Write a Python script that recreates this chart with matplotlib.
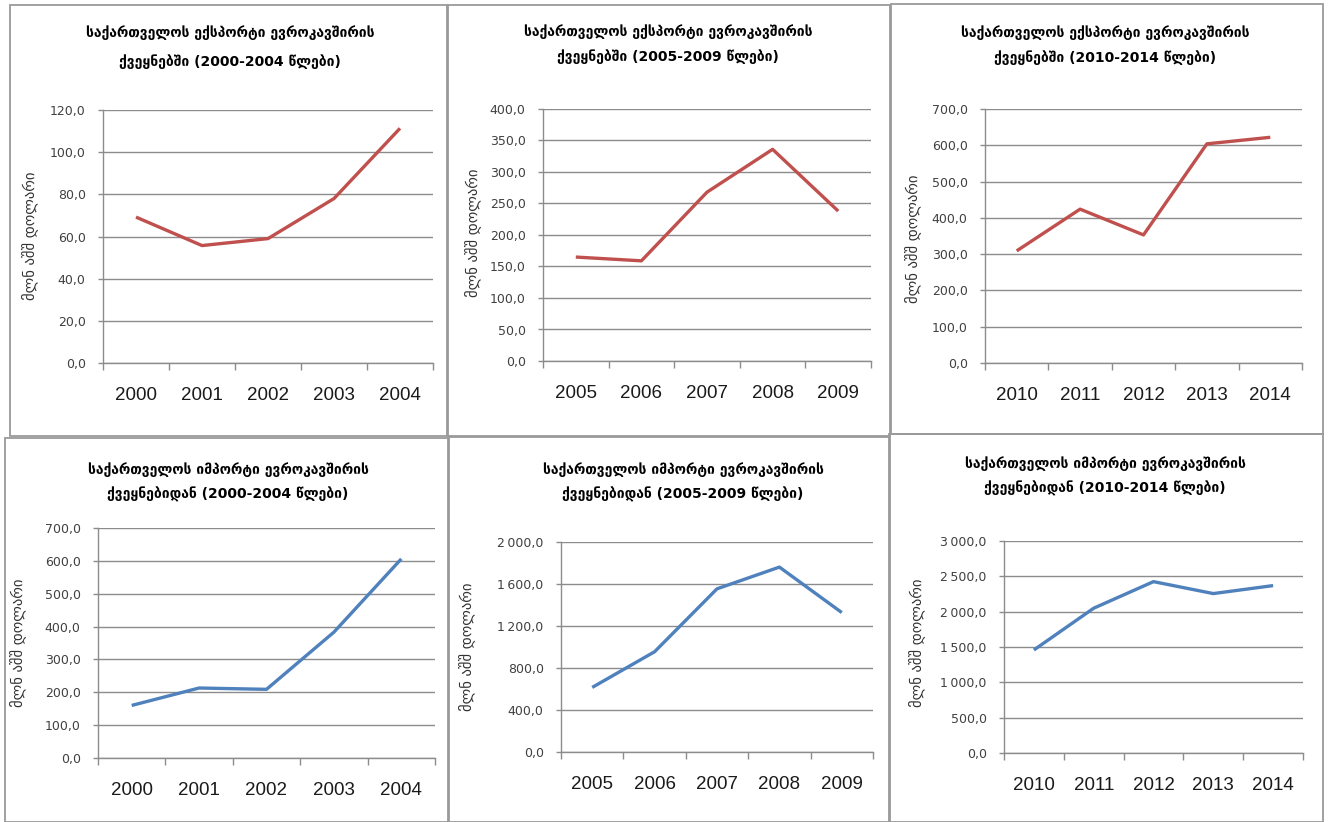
import matplotlib
matplotlib.use('Agg')
import matplotlib.pyplot as plt
from matplotlib.patches import Rectangle
from matplotlib.ticker import FuncFormatter

W, H = 1329, 822

years_a = ['2000', '2001', '2002', '2003', '2004']
years_b = ['2005', '2006', '2007', '2008', '2009']
years_c = ['2010', '2011', '2012', '2013', '2014']

# მლნ აშშ დოლარი
export_a = [69.2, 55.7, 59.0, 78.0, 111.3]
export_b = [165.0, 159.0, 268.0, 336.0, 238.0]
export_c = [309.0, 424.0, 353.0, 604.0, 622.0]
import_a = [160.0, 213.0, 209.0, 383.0, 606.0]
import_b = [615.0, 955.0, 1554.0, 1761.0, 1328.0]
import_c = [1458.0, 2049.0, 2425.0, 2256.0, 2369.0]

export_title = 'საქართველოს ექსპორტი ევროკავშირის\nქვეყნებში ({} წლები)'
import_title = 'საქართველოს იმპორტი ევროკავშირის\nქვეყნებიდან ({} წლები)'
y_label = 'მლნ აშშ დოლარი'

RED = '#C0504D'
BLUE = '#4F81BD'
GRID = '#8C8C8C'


def fmt(v, pos=None):
    s = '{:,.1f}'.format(v)
    return s.replace(',', '\u2009').replace('.', ',')


def px_rect(x0, y0, x1, y1):
    # pixels (top-left origin) -> figure fraction
    return [x0 / W, 1 - y1 / H, (x1 - x0) / W, (y1 - y0) / H]


panels = [
    # frame, axes, years, values, ymax, ystep, color, title, title center, line spacing, ylabel pos
    ((10, 5, 447, 436), (103, 110, 433, 363), years_a, export_a, 120, 20, RED,
     export_title.format('2000-2004'), (230, 47), 2.15, (30, 236)),
    ((448, 5, 890, 436), (543, 109, 871, 361), years_b, export_b, 400, 50, RED,
     export_title.format('2005-2009'), (668, 44), 1.85, (473, 233)),
    ((891, 4, 1323, 434), (985, 109, 1302, 363), years_c, export_c, 700, 100, RED,
     export_title.format('2010-2014'), (1105, 45), 1.85, (913, 239)),
    ((5, 438, 448, 822), (98, 528, 435, 758), years_a, import_a, 700, 100, BLUE,
     import_title.format('2000-2004'), (228, 482), 1.85, (18, 643)),
    ((449, 437, 890, 822), (561, 542, 873, 752), years_b, import_b, 2000, 400, BLUE,
     import_title.format('2005-2009'), (683, 482), 1.85, (467, 647)),
    ((889, 434, 1323, 822), (1004, 541, 1303, 753), years_c, import_c, 3000, 500, BLUE,
     import_title.format('2010-2014'), (1105, 476), 1.85, (917, 643)),
]

fig = plt.figure(figsize=(W / 100, H / 100), dpi=100)
fig.patch.set_facecolor('white')

for frame, box, years, vals, ymax, ystep, color, title, tpos, tls, lpos in panels:
    fx0, fy0, fx1, fy1 = frame
    fig.add_artist(Rectangle((fx0 / W, 1 - fy1 / H), (fx1 - fx0) / W, (fy1 - fy0) / H,
                             transform=fig.transFigure, fill=False, ec='#9a9a9a', lw=1.3))

    ax = fig.add_axes(px_rect(*box))
    xs = [i + 0.5 for i in range(len(years))]
    ax.plot(xs, vals, color=color, lw=2.4, solid_capstyle='butt')
    ax.set_xlim(0, len(years))
    ax.set_ylim(0, ymax)
    ax.set_yticks(list(range(0, ymax + 1, ystep)))
    ax.yaxis.set_major_formatter(FuncFormatter(fmt))
    ax.grid(axis='y', color=GRID, lw=1)
    ax.set_axisbelow(True)

    ax.set_xticks(range(len(years) + 1))
    ax.set_xticklabels([])
    ax.set_xticks(xs, minor=True)
    ax.set_xticklabels(years, minor=True, fontsize=13.5, family='Liberation Sans', color='#1a1a1a')
    ax.tick_params(axis='x', which='minor', length=0, pad=17)
    ax.tick_params(axis='x', which='major', length=5, color=GRID, width=1)
    ax.tick_params(axis='y', length=3.5, color=GRID, width=1, pad=9,
                   labelsize=9, labelcolor='#404040')

    for side in ['top', 'right']:
        ax.spines[side].set_visible(False)
    for side in ['left', 'bottom']:
        ax.spines[side].set_color(GRID)
        ax.spines[side].set_linewidth(1)

    fig.text(tpos[0] / W, 1 - tpos[1] / H, title, ha='center', va='center',
             fontsize=10, fontweight='bold', linespacing=tls, family='DejaVu Sans')
    fig.text(lpos[0] / W, 1 - lpos[1] / H, y_label, ha='center', va='center',
             rotation=90, fontsize=10.5, color='#333333', family='DejaVu Sans')

fig.savefig('out.png', dpi=100, facecolor='white')
